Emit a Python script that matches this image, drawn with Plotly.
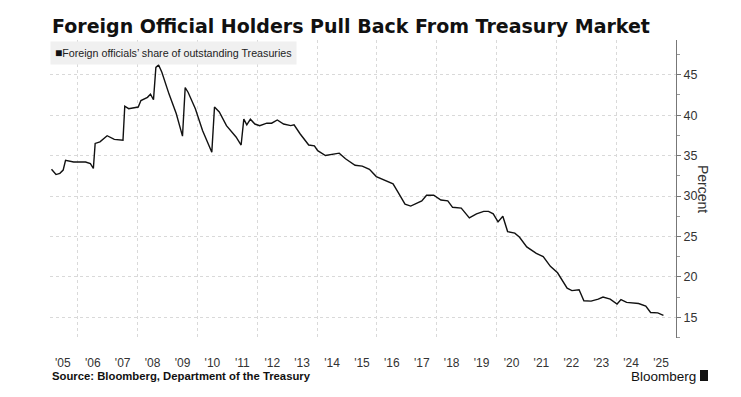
import plotly.graph_objects as go

# Decimal-year positions and values
years = [2005.12, 2005.27, 2005.40, 2005.51, 2005.59, 2005.71, 2005.86, 2006.26, 2006.42, 2006.52,
         2006.58, 2006.74, 2006.98, 2007.22, 2007.51, 2007.57, 2007.70, 2008.02, 2008.11, 2008.33,
         2008.43, 2008.53, 2008.61, 2008.70, 2008.81, 2009.05, 2009.29, 2009.50, 2009.59, 2009.69,
         2009.93, 2010.17, 2010.48, 2010.57, 2010.73, 2010.97, 2011.29, 2011.46, 2011.55, 2011.65,
         2011.77, 2011.92, 2012.08, 2012.32, 2012.48, 2012.67, 2012.88, 2013.12, 2013.23, 2013.43,
         2013.72, 2013.91, 2014.02, 2014.28, 2014.55, 2014.74, 2014.95, 2015.27, 2015.51, 2015.75,
         2015.98, 2016.22, 2016.54, 2016.70, 2016.94, 2017.13, 2017.26, 2017.50, 2017.66, 2017.90,
         2018.14, 2018.37, 2018.53, 2018.82, 2019.09, 2019.33, 2019.57, 2019.73, 2019.89, 2020.05,
         2020.21, 2020.37, 2020.61, 2020.77, 2021.01, 2021.33, 2021.56, 2021.80, 2022.04, 2022.20,
         2022.36, 2022.52, 2022.76, 2022.92, 2023.16, 2023.40, 2023.56, 2023.80, 2024.03, 2024.16,
         2024.35, 2024.75, 2024.99, 2025.15, 2025.39, 2025.58]
share = [33.3, 32.65, 32.8, 33.2, 34.4, 34.3, 34.2, 34.2, 34.0, 33.4,
         36.5, 36.7, 37.45, 37.0, 36.9, 41.1, 40.8, 41.0, 41.8, 42.2,
         42.6, 41.9, 45.9, 46.2, 45.3, 42.6, 40.2, 37.4, 43.4, 42.8,
         40.8, 38.1, 35.4, 41.0, 40.4, 38.7, 37.3, 36.3, 39.5, 38.8,
         39.5, 38.9, 38.7, 39.0, 39.0, 39.4, 38.9, 38.7, 38.8, 37.7,
         36.3, 36.2, 35.6, 35.0, 35.2, 35.3, 34.6, 33.8, 33.7, 33.3,
         32.4, 32.0, 31.5, 30.5, 29.0, 28.75, 29.0, 29.4, 30.1, 30.1,
         29.5, 29.4, 28.6, 28.5, 27.3, 27.8, 28.1, 28.1, 27.8, 26.8,
         27.5, 25.6, 25.4, 24.9, 23.7, 22.9, 22.5, 21.3, 20.5, 19.6,
         18.6, 18.3, 18.4, 17.05, 17.0, 17.25, 17.5, 17.25, 16.65, 17.2,
         16.85, 16.7, 16.4, 15.6, 15.55, 15.25]

year_tick_pos = [y + 0.5 for y in range(2005, 2026)]
year_tick_text = ["'%02d" % (y % 100) for y in range(2005, 2026)]
grid_years = list(range(2006, 2026, 2))
y_ticks = [15, 20, 25, 30, 35, 40, 45]

fig = go.Figure()
fig.add_trace(go.Scatter(x=years, y=share, mode="lines",
                         line=dict(color="#111111", width=1.4),
                         name="Foreign officials’ share of outstanding Treasuries",
                         showlegend=False, hoverinfo="x+y"))

BASE = "Liberation Sans, Arial, sans-serif"
fig.update_layout(
    width=733, height=389,
    margin=dict(l=42, r=65, t=32, b=59),
    paper_bgcolor="white", plot_bgcolor="white",
    font=dict(family=BASE, color="#333333"),
    xaxis=dict(range=[2005.07, 2026.0], tickmode="array", tickvals=year_tick_pos,
               ticktext=year_tick_text, showgrid=False, zeroline=False, showline=False,
               ticks="", tickfont=dict(size=12, color="#333333"), ticklabelstandoff=16,
               minor=dict(tickmode="array", tickvals=grid_years, showgrid=True,
                          gridcolor="#d9d9d9", griddash="dot", gridwidth=1, ticks="")),
    yaxis=dict(side="right", range=[12.44, 49.29], tickmode="array", tickvals=y_ticks,
               showgrid=True, gridcolor="#d9d9d9", griddash="dot", gridwidth=1,
               zeroline=False, showline=True, linecolor="#777777", linewidth=1,
               ticks="outside", ticklen=4, tickcolor="#777777",
               tickfont=dict(size=12.5, color="#333333"),
               minor=dict(dtick=2.5, tick0=0, ticks="outside", ticklen=3,
                          tickcolor="#999999", showgrid=False)),
)

# Title
fig.add_annotation(xref="paper", yref="paper", x=0.0, y=1.0, yshift=14,
                   xanchor="left", yanchor="middle", showarrow=False,
                   text="<b>Foreign Official Holders Pull Back From Treasury Market</b>",
                   font=dict(size=19, color="#111111", family="DejaVu Sans, sans-serif"))
# Legend box
fig.add_annotation(xref="paper", yref="paper", x=0.0, y=1.0, yshift=-1,
                   xanchor="left", yanchor="top", showarrow=False,
                   bgcolor="#f0f0f0", borderpad=4, align="left",
                   text="<span style='font-size:12px;color:#111'>■</span>Foreign officials’ share of outstanding Treasuries",
                   font=dict(size=10.7, color="#222222"))
# Axis title
fig.add_annotation(xref="paper", yref="paper", x=1.0, y=0.5, xshift=27,
                   xanchor="center", yanchor="middle", showarrow=False, textangle=90,
                   text="Percent", font=dict(size=14, color="#333333"))
# Source
fig.add_annotation(xref="paper", yref="paper", x=0.0, y=0.0, yshift=-38,
                   xanchor="left", yanchor="middle", showarrow=False,
                   text="<b>Source: Bloomberg, Department of the Treasury</b>",
                   font=dict(size=11.3, color="#111111"))
# Bloomberg mark
fig.add_annotation(xref="paper", yref="paper", x=1.0, y=0.0, xshift=22, yshift=-38,
                   xanchor="right", yanchor="middle", showarrow=False,
                   text="Bloomberg", font=dict(size=13.5, color="#111111"))
fig.add_shape(type="rect", xref="paper", yref="paper", x0=1.0383, x1=1.0511, y0=-0.1443, y1=-0.1074,
              fillcolor="#111111", line=dict(width=0))

fig.write_html("out.html")
